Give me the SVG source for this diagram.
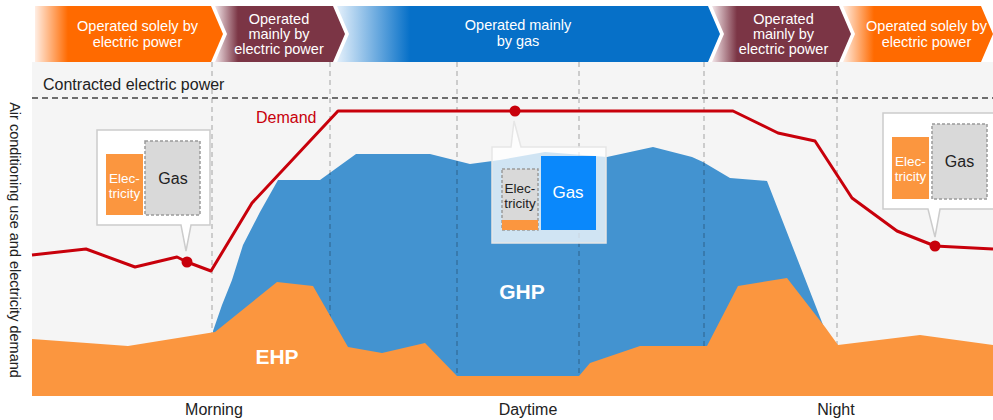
<svg xmlns="http://www.w3.org/2000/svg" width="993" height="420" viewBox="0 0 993 420">
  <defs>
    <style>
      text { font-family: "Liberation Sans", Arial, sans-serif; }
      .band { fill: #ffffff; font-size: 14.5px; text-anchor: middle; }
      .lbl { font-size: 16px; fill: #222; }
      .axis { font-size: 16px; fill: #222; text-anchor: middle; }
      .area-lbl { font-size: 21px; font-weight: bold; fill: #ffffff; text-anchor: middle; }
      .guide { stroke: #000; stroke-opacity: 0.22; stroke-width: 1.5; stroke-dasharray: 5 4; fill: none; }
      .callout { fill: #ffffff; stroke: #cccccc; stroke-width: 1.5; }
      .elec { fill: #fb963f; }
      .gasbox { fill: #d9d9d9; stroke: #9a9a9a; stroke-width: 1.5; stroke-dasharray: 3 2; }
      .small-w { font-size: 13.5px; fill: #ffffff; text-anchor: middle; }
      .small-d { font-size: 13.5px; fill: #222; text-anchor: middle; }
      .gas-lbl { font-size: 16px; fill: #222; text-anchor: middle; }
      .dot { fill: #c8000b; }
    </style>
    <linearGradient id="gOrange1" gradientUnits="userSpaceOnUse" x1="35" y1="0" x2="68" y2="0">
      <stop offset="0" stop-color="#ffeee4"/>
      <stop offset="1" stop-color="#ff6a00"/>
    </linearGradient>
    <linearGradient id="gMaroon1" gradientUnits="userSpaceOnUse" x1="215" y1="0" x2="238" y2="0">
      <stop offset="0" stop-color="#f3e6e9"/>
      <stop offset="1" stop-color="#7b3545"/>
    </linearGradient>
    <linearGradient id="gBlue" gradientUnits="userSpaceOnUse" x1="337" y1="0" x2="410" y2="0">
      <stop offset="0" stop-color="#e4f0fb"/>
      <stop offset="1" stop-color="#0670c8"/>
    </linearGradient>
    <linearGradient id="gMaroon2" gradientUnits="userSpaceOnUse" x1="712" y1="0" x2="737" y2="0">
      <stop offset="0" stop-color="#f3e6e9"/>
      <stop offset="1" stop-color="#7b3545"/>
    </linearGradient>
    <linearGradient id="gOrange2" gradientUnits="userSpaceOnUse" x1="843" y1="0" x2="874" y2="0">
      <stop offset="0" stop-color="#ffeee4"/>
      <stop offset="1" stop-color="#ff6a00"/>
    </linearGradient>
  </defs>

  <rect width="993" height="420" fill="#ffffff"/>

  <!-- plot background -->
  <rect id="plot-bg" x="32" y="62" width="961" height="334" fill="#f5f5f5"/>

  <!-- operating-mode banners -->
  <g id="band-solely-1">
    <polygon points="35,6 211,6 223,34 211,62 35,62" fill="url(#gOrange1)"/>
    <text class="band" x="137.5" y="31">Operated solely by</text>
    <text class="band" x="137.5" y="47">electric power</text>
  </g>
  <g id="band-mainly-elec-1">
    <polygon points="215,6 333,6 345,34 333,62 215,62 227,34" fill="url(#gMaroon1)"/>
    <text class="band" x="279" y="24">Operated</text>
    <text class="band" x="279" y="39">mainly by</text>
    <text class="band" x="279" y="54">electric power</text>
  </g>
  <g id="band-mainly-gas">
    <polygon points="337,6 708,6 720,34 708,62 337,62 349,34" fill="url(#gBlue)"/>
    <text class="band" x="518" y="30">Operated mainly</text>
    <text class="band" x="518" y="46">by gas</text>
  </g>
  <g id="band-mainly-elec-2">
    <polygon points="712,6 839,6 851,34 839,62 712,62 724,34" fill="url(#gMaroon2)"/>
    <text class="band" x="783.5" y="24">Operated</text>
    <text class="band" x="783.5" y="39">mainly by</text>
    <text class="band" x="783.5" y="54">electric power</text>
  </g>
  <g id="band-solely-2">
    <polygon points="843,6 981,6 993,34 981,62 843,62 855,34" fill="url(#gOrange2)"/>
    <text class="band" x="926.5" y="31">Operated solely by</text>
    <text class="band" x="926.5" y="47">electric power</text>
  </g>

  <!-- GHP load area -->
  <g id="ghp">
    <polygon fill="#4393d0" points="213,331 222,305 232,280 243,245 260,212 278,180 320,180 356,154 430,154 470,164 500,160 545,152 607,157 653,147 692,157 703,162 730,178 767,181 825,330 825,396 213,396"/>
  </g>

  <!-- time-period guides -->
  <g id="guides">
    <line class="guide" x1="212" y1="62" x2="212" y2="396"/>
    <line class="guide" x1="330" y1="62" x2="330" y2="396"/>
    <line class="guide" x1="457" y1="62" x2="457" y2="396"/>
    <line class="guide" x1="579" y1="62" x2="579" y2="396"/>
    <line class="guide" x1="704" y1="62" x2="704" y2="396"/>
    <line class="guide" x1="837" y1="62" x2="837" y2="396"/>
  </g>

  <!-- EHP load area -->
  <g id="ehp">
    <polygon fill="#fb963f" points="32,339 128,346 215,332 277,282 313,286 348,347 382,353 425,343 457,376 579,376 590,363 640,346 707,346 738,286 787,278 825,327 838,345 920,335 993,345 993,396 32,396"/>
  </g>
  <text class="area-lbl" x="277" y="364">EHP</text>
  <text class="area-lbl" x="522" y="299">GHP</text>

  <!-- contracted power limit -->
  <g id="contract">
    <line x1="32" y1="98" x2="993" y2="98" stroke="#6e6e6e" stroke-width="2" stroke-dasharray="6 4"/>
    <text class="lbl" x="43" y="90">Contracted electric power</text>
  </g>

  <!-- demand curve -->
  <g id="connectors">
    <polyline fill="none" stroke="#c8000b" stroke-width="3" stroke-linejoin="round"
      points="32,255 86,249 135,267 177,257 187,262 211,271 252,203 338,111 733,111 778,133 815,141 852,198 897,231 935,246 993,249"/>
  </g>
  <text x="256" y="123" font-size="16" fill="#c8000b" font-family="Liberation Sans, Arial, sans-serif">Demand</text>

  <!-- morning callout -->
  <g id="callout-morning">
    <path class="callout" d="M97,130 H210 V225 H191 L186,251 L181,225 H97 Z"/>
    <rect class="elec" x="106" y="154" width="37" height="61"/>
    <text class="small-w" x="124.5" y="183">Elec-</text>
    <text class="small-w" x="124.5" y="198">tricity</text>
    <rect class="gasbox" x="145" y="141" width="55" height="74"/>
    <text class="gas-lbl" x="173" y="184">Gas</text>
  </g>

  <!-- daytime callout -->
  <g id="callout-daytime">
    <path d="M492,147 H511 L514,121 L521,147 H606 V243 H492 Z" fill="#ffffff" fill-opacity="0.75" stroke="#e6e6e6" stroke-width="1.5"/>
    <rect class="gasbox" x="502" y="169" width="36" height="61"/>
    <rect class="elec" x="502" y="220" width="36" height="10"/>
    <text class="small-d" x="520" y="193">Elec-</text>
    <text class="small-d" x="520" y="208">tricity</text>
    <rect x="541" y="156" width="55" height="74" fill="#0a88fb"/>
    <text x="568" y="198" font-size="17" fill="#ffffff" text-anchor="middle" font-family="Liberation Sans, Arial, sans-serif">Gas</text>
  </g>

  <!-- night callout -->
  <g id="callout-night">
    <path class="callout" d="M883,113 H998 V209 H940 L935,237 L928,209 H883 Z"/>
    <rect class="elec" x="892" y="137" width="37" height="62"/>
    <text class="small-w" x="910.5" y="166">Elec-</text>
    <text class="small-w" x="910.5" y="181">tricity</text>
    <rect class="gasbox" x="932" y="124" width="55" height="75"/>
    <text class="gas-lbl" x="959.5" y="167">Gas</text>
  </g>

  <!-- demand markers -->
  <g id="markers">
    <circle class="dot" cx="187" cy="262" r="5.5"/>
    <circle class="dot" cx="515" cy="111" r="5.5"/>
    <circle class="dot" cx="935" cy="246" r="5.5"/>
  </g>

  <!-- axes labels -->
  <text class="axis" x="214" y="415">Morning</text>
  <text class="axis" x="528" y="415">Daytime</text>
  <text class="axis" x="836" y="415">Night</text>
  <text transform="translate(10,240) rotate(90)" font-size="14.5" fill="#222" text-anchor="middle" font-family="Liberation Sans, Arial, sans-serif">Air conditioning use and electricity demand</text>
</svg>
